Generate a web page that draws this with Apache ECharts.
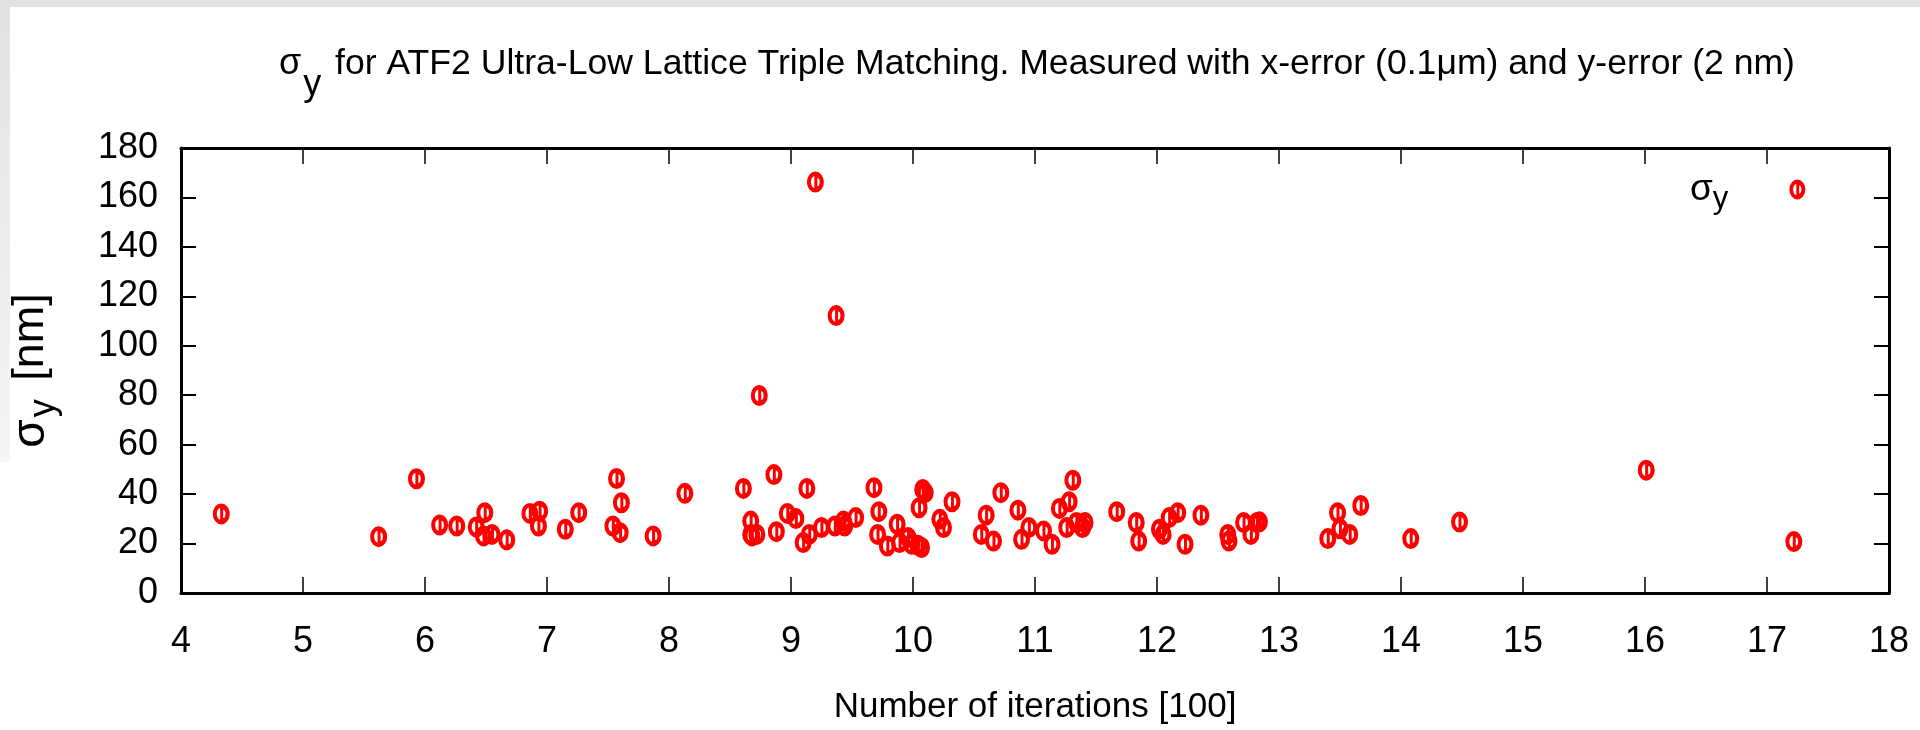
<!DOCTYPE html>
<html>
<head>
<meta charset="utf-8">
<script src="https://cdn.jsdelivr.net/npm/echarts@6/dist/echarts.min.js"></script>
<style>html,body{margin:0;padding:0;background:#fff}#c{width:1920px;height:730px}</style>
</head>
<body>
<div id="c"></div>
<script>
// Data
const iterations = [4.33,5.62,5.93,6.12,6.26,6.42,6.49,6.48,6.55,6.67,6.86,6.94,6.93,7.15,7.26,7.54,7.57,7.61,7.60,7.87,8.13,8.61,8.74,8.67,8.68,8.67,8.72,8.86,8.88,8.97,9.04,9.10,9.13,9.15,9.20,9.25,9.36,9.37,9.43,9.44,9.53,9.68,9.72,9.71,9.79,9.87,9.89,9.96,9.99,10.04,10.07,10.05,10.08,10.10,10.22,10.25,10.32,10.56,10.60,10.66,10.72,10.86,10.89,10.95,11.07,11.14,11.20,11.26,11.28,11.31,11.34,11.39,11.41,11.67,11.83,11.85,12.02,12.05,12.10,12.17,12.23,12.36,12.58,12.59,12.71,12.77,12.82,12.84,13.40,13.48,13.50,13.58,13.67,14.08,14.48,16.01,17.22];
const sigmaY = [32.0,22.8,46.2,27.5,27.1,26.7,32.5,23.1,23.7,21.5,32.2,33.1,27.1,25.8,32.5,27.1,46.3,36.5,24.4,23.1,40.3,42.3,79.9,29.1,23.1,23.7,23.7,47.9,24.8,32.2,30.1,20.4,42.3,23.7,166.2,26.5,27.1,112.2,29.1,27.1,30.5,42.6,32.9,23.7,19.0,27.8,20.4,22.4,19.7,19.3,18.4,34.5,41.9,40.6,29.8,26.5,36.9,23.7,31.5,21.0,40.6,33.5,21.7,26.5,25.1,19.7,34.2,26.5,36.9,45.6,28.5,26.5,28.5,32.9,28.5,21.0,25.8,23.7,30.5,32.5,19.7,31.5,23.7,21.0,28.5,23.7,28.5,28.8,22.0,32.5,26.0,23.7,35.4,22.0,28.7,49.7,20.8];
const xTicks = {min: 4, max: 18, step: 1};
const yTicks = {min: 0, max: 180, step: 20};
const titleText = ' for ATF2 Ultra-Low Lattice Triple Matching. Measured with x-error (0.1\u03bcm) and y-error (2 nm)';
const xName = 'Number of iterations [100]';
const seriesName = '\u03c3y';

const FONT = '"Liberation Sans", Arial, Helvetica, sans-serif';
const points = iterations.map((x, i) => [x, sigmaY[i]]);
// open ellipse with a vertical bar: outer ellipse minus two inner half-ellipse holes
const markerPath = 'path://M8,0 A8,10 0 1,1 8,20 A8,10 0 1,1 8,0 Z M7,4.5 A3.2,5.5 0 0,0 7,15.5 Z M9.8,14 A2.2,4 0 0,0 9.8,6 Z';

const chart = echarts.init(document.getElementById('c'), null, {renderer: 'canvas'});
const axisLine = {show: true, onZero: false, lineStyle: {color: '#000', width: 3}};
const tickX = {show: true, inside: true, length: 16, lineStyle: {color: '#000', width: 1.5}};
const tickY = {show: true, inside: true, length: 15, lineStyle: {color: '#000', width: 2}};

chart.setOption({
  backgroundColor: '#ffffff',
  animation: false,
  graphic: [
    {type: 'rect', left: 0, top: 0, shape: {width: 1920, height: 7}, style: {fill: '#e2e2e2'}, silent: true},
    {type: 'rect', left: 0, top: 7, shape: {width: 10, height: 455}, style: {fill: new echarts.graphic.LinearGradient(0,0,0,1,[{offset:0,color:'#e2e2e2'},{offset:1,color:'#f5f5f5'}])}, silent: true}
  ],
  title: {
    text: '{s|\u03c3}{sub|y}{t|' + titleText + '}',
    left: 279,
    top: 26,
    padding: 0,
    textStyle: {
      fontWeight: 'normal',
      rich: {
        s: {fontFamily: FONT, fontSize: 36, fontWeight: 'normal', color: '#000'},
        sub: {fontFamily: FONT, fontSize: 36, fontWeight: 'normal', color: '#000', padding: [41, 4, 0, 2]},
        t: {fontFamily: FONT, fontSize: 35.6, fontWeight: 'normal', color: '#000'}
      }
    }
  },
  legend: {
    data: [seriesName],
    left: 1685,
    top: 166,
    align: 'right',
    itemWidth: 16,
    itemHeight: 20,
    formatter: () => '{s|\u03c3}{sub|y}{gap| }',
    textStyle: {
      rich: {
        s: {fontFamily: FONT, fontSize: 37, color: '#000'},
        sub: {fontFamily: FONT, fontSize: 31, color: '#000', padding: [20, 0, 0, 0]},
        gap: {width: 56, fontSize: 10}
      }
    }
  },
  grid: {left: 181, right: 31, top: 148, bottom: 136},
  xAxis: [
    {
      type: 'value', position: 'bottom', min: xTicks.min, max: xTicks.max, interval: xTicks.step,
      axisLine: axisLine, axisTick: tickX, splitLine: {show: false},
      axisLabel: {fontFamily: FONT, fontSize: 36, color: '#000', margin: 31},
      name: xName, nameLocation: 'middle', nameGap: 97,
      nameTextStyle: {fontFamily: FONT, fontSize: 35, color: '#000'}
    },
    {
      type: 'value', position: 'top', min: xTicks.min, max: xTicks.max, interval: xTicks.step,
      axisLine: axisLine, axisTick: tickX, splitLine: {show: false}, axisLabel: {show: false}
    }
  ],
  yAxis: [
    {
      type: 'value', position: 'left', min: yTicks.min, max: yTicks.max, interval: yTicks.step,
      axisLine: axisLine, axisTick: tickY, splitLine: {show: false},
      axisLabel: {fontFamily: FONT, fontSize: 36, color: '#000', margin: 23},
      name: '{s|\u03c3}{sub|y}{t| [nm]}', nameLocation: 'middle', nameRotate: 90, nameGap: 119,
      nameTextStyle: {
        rich: {
          s: {fontFamily: FONT, fontSize: 46, color: '#000'},
          sub: {fontFamily: FONT, fontSize: 36, color: '#000', padding: [26, 6, 0, 2]},
          t: {fontFamily: FONT, fontSize: 45, color: '#000'}
        }
      }
    },
    {
      type: 'value', position: 'right', min: yTicks.min, max: yTicks.max, interval: yTicks.step,
      axisLine: axisLine, axisTick: tickY, splitLine: {show: false}, axisLabel: {show: false}
    }
  ],
  series: [{
    name: seriesName,
    type: 'scatter',
    data: points,
    symbol: markerPath,
    symbolSize: [17, 21],
    itemStyle: {color: '#ff0000', opacity: 1}
  }]
});
</script>
</body>
</html>
